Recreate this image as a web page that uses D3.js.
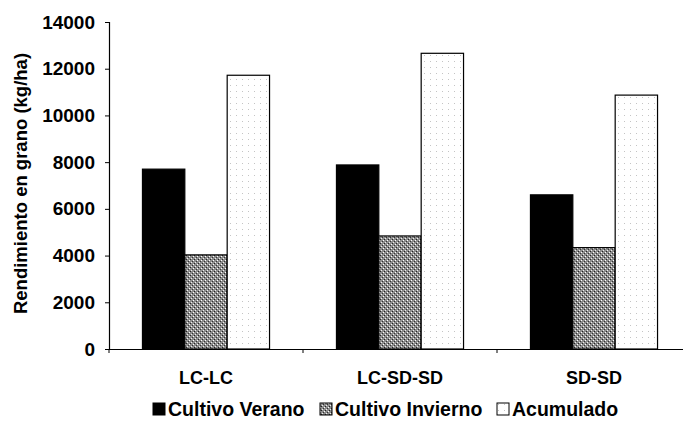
<!DOCTYPE html>
<html>
<head>
<meta charset="utf-8">
<script src="https://cdn.jsdelivr.net/npm/d3@7"></script>
<style>
  body { margin: 0; background: #fff; }
  svg { display: block; font-family: "Liberation Sans", Arial, sans-serif; font-weight: bold; }
</style>
</head>
<body>
<div id="chart"></div>
<script>
// data
const categories = ["LC-LC", "LC-SD-SD", "SD-SD"];
const series = ["Cultivo Verano", "Cultivo Invierno", "Acumulado"];
const verano = [7700, 7880, 6600];
const invierno = [4030, 4840, 4340];
const acumulado = [11720, 12660, 10870];
const yTicks = [0, 2000, 4000, 6000, 8000, 10000, 12000, 14000];

const width = 683, height = 423;
const margin = { top: 22, right: -8, bottom: 74, left: 109 };

const svg = d3.select("#chart").append("svg")
    .attr("width", width)
    .attr("height", height);

// fill patterns, a plain approximation of the scanned stipple
const defs = svg.append("defs");
const pInv = defs.append("pattern")
    .attr("id", "pInv").attr("patternUnits", "userSpaceOnUse")
    .attr("width", 4).attr("height", 4);
pInv.append("rect").attr("width", 4).attr("height", 4).attr("fill", "#8c8c8c");
pInv.append("rect").attr("x", 0).attr("y", 0).attr("width", 1).attr("height", 1).attr("fill", "#fff");
pInv.append("rect").attr("x", 2).attr("y", 2).attr("width", 1).attr("height", 1).attr("fill", "#eee");
pInv.append("rect").attr("x", 1).attr("y", 3).attr("width", 1).attr("height", 1).attr("fill", "#222");
pInv.append("rect").attr("x", 3).attr("y", 1).attr("width", 1).attr("height", 1).attr("fill", "#333");

const pAcu = defs.append("pattern")
    .attr("id", "pAcu").attr("patternUnits", "userSpaceOnUse")
    .attr("width", 6).attr("height", 6);
pAcu.append("rect").attr("width", 6).attr("height", 6).attr("fill", "#fff");
pAcu.append("rect").attr("x", 1).attr("y", 1).attr("width", 1).attr("height", 1).attr("fill", "#c4c4c4");

const fills = ["#000", "url(#pInv)", "url(#pAcu)"];

const x0 = d3.scaleBand()
    .domain(categories)
    .range([margin.left, width - margin.right])
    .paddingInner(0).paddingOuter(0);
const x1 = d3.scaleBand()
    .domain(series)
    .range([0, x0.bandwidth()])
    .paddingOuter(0.79).paddingInner(0);
const y = d3.scaleLinear()
    .domain([0, 14000])
    .range([height - margin.bottom, margin.top]);

const rows = categories.map((c, i) => ({
    cat: c,
    vals: [verano[i], invierno[i], acumulado[i]]
}));

const groups = svg.append("g").selectAll("g")
    .data(rows)
    .enter().append("g")
    .attr("transform", d => `translate(${x0(d.cat)},0)`);

groups.selectAll("rect")
    .data(d => d.vals.map((v, j) => ({ s: series[j], v: v, j: j })))
    .enter().append("rect")
    .attr("x", d => x1(d.s))
    .attr("width", x1.bandwidth())
    .attr("y", d => y(d.v))
    .attr("height", d => y(0) - y(d.v))
    .attr("fill", d => fills[d.j])
    .attr("stroke", "#000")
    .attr("stroke-width", 1.2);

// y axis
const yAxis = svg.append("g")
    .attr("transform", `translate(${margin.left},0)`)
    .call(d3.axisLeft(y).tickValues(yTicks).tickSize(4).tickPadding(10).tickFormat(d3.format("d")));
yAxis.select(".domain").attr("stroke", "#000").attr("stroke-width", 1.2);
yAxis.selectAll("text").style("font-size", "19px").style("font-weight", "bold").attr("fill", "#000");

// x axis
const xAxis = svg.append("g")
    .attr("transform", `translate(0,${y(0)})`)
    .call(d3.axisBottom(x0).tickSize(0).tickPadding(22));
xAxis.select(".domain").attr("stroke", "#000").attr("stroke-width", 1.2);
xAxis.selectAll("text").style("font-size", "18px").style("font-weight", "bold").attr("fill", "#000");
xAxis.selectAll(".sep")
    .data(categories)
    .enter().append("line")
    .attr("class", "sep")
    .attr("x1", d => x0(d)).attr("x2", d => x0(d))
    .attr("y1", 0).attr("y2", 4)
    .attr("stroke", "#000");

// y title
svg.append("text")
    .attr("transform", `translate(27,${(y(0) + y(14000)) / 2 - 2}) rotate(-90)`)
    .attr("text-anchor", "middle")
    .style("font-size", "18.5px")
    .text("Rendimiento en grano (kg/ha)");

// legend
const legendX = [153, 320, 497];
const legend = svg.append("g").selectAll("g")
    .data(series)
    .enter().append("g")
    .attr("transform", (d, i) => `translate(${legendX[i]},403)`);
legend.append("rect")
    .attr("width", 12).attr("height", 12)
    .attr("fill", (d, i) => fills[i])
    .attr("stroke", "#000").attr("stroke-width", 1);
legend.append("text")
    .attr("x", 15).attr("y", 13)
    .style("font-size", "19.5px")
    .text(d => d);
</script>
</body>
</html>
